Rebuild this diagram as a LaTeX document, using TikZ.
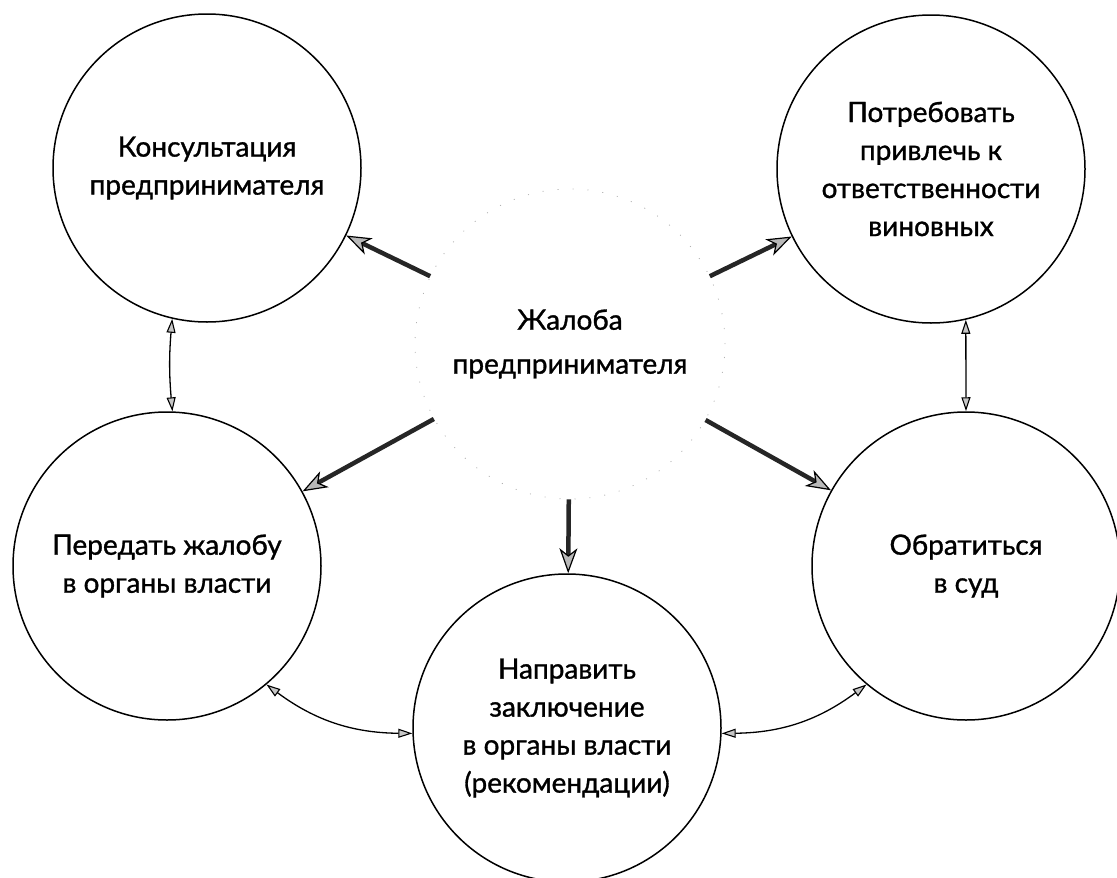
\documentclass[tikz,border=0pt]{standalone}
\usepackage{fontspec}
\setmainfont{Lato}[BoldFont=Lato, BoldFeatures={FakeBold=1.1}]
\usetikzlibrary{arrows.meta}
\begin{document}
\begin{tikzpicture}[x=1pt,y=-1pt,
  txt/.style={align=center,font=\fontsize{28}{38}\selectfont\bfseries},
  bubble/.style={circle,draw=black,line width=1.5pt,minimum size=308pt,inner sep=0pt,txt},
  hub/.style={circle,draw=black!30,line width=0.8pt,dash pattern=on 1pt off 14pt,minimum size=310pt,inner sep=0pt,align=center,font=\fontsize{28}{44}\selectfont\bfseries},
  main/.style={-{Stealth[length=25pt,width=18pt,inset=7pt,line width=1.2pt,color=black,fill=gray!55]},line width=4.5pt,draw=black!85},
  link/.style={{Triangle[length=14pt,width=9pt,line width=1.1pt,color=black,fill=gray!45]}-{Triangle[length=14pt,width=9pt,line width=1.1pt,color=black,fill=gray!45]},line width=1.3pt}
]
\useasboundingbox (0,0) rectangle (1117,878);

\node[hub] (c) at (570,344) {Жалоба\\предпринимателя};

\node[bubble] (tl) at (207,168) {Консультация\\предпринимателя};
\node[bubble] (tr) at (931,169) {Потребовать\\привлечь к\\ответственности\\виновных};
\node[bubble] (ml) at (167,566) {Передать жалобу\\в органы власти};
\node[bubble] (bt) at (567,728) {Направить\\заключение\\в органы власти\\(рекомендации)};
\node[bubble] (rt) at (966,566) {Обратиться\\в суд};

\draw[main] (c) -- (tl);
\draw[main] (c) -- (tr);
\draw[main] (c) -- (ml);
\draw[main] (c) -- (bt);
\draw[main] (c) -- (rt);

\draw[link] (tl.257) to[bend right=5] (ml.88);
\draw[link] (tr.283) -- (rt.90);
\draw[link] (ml.-50) to[bend right=18] (bt.182);
\draw[link] (bt.-2) to[bend right=18] (rt.230);
\end{tikzpicture}
\end{document}
